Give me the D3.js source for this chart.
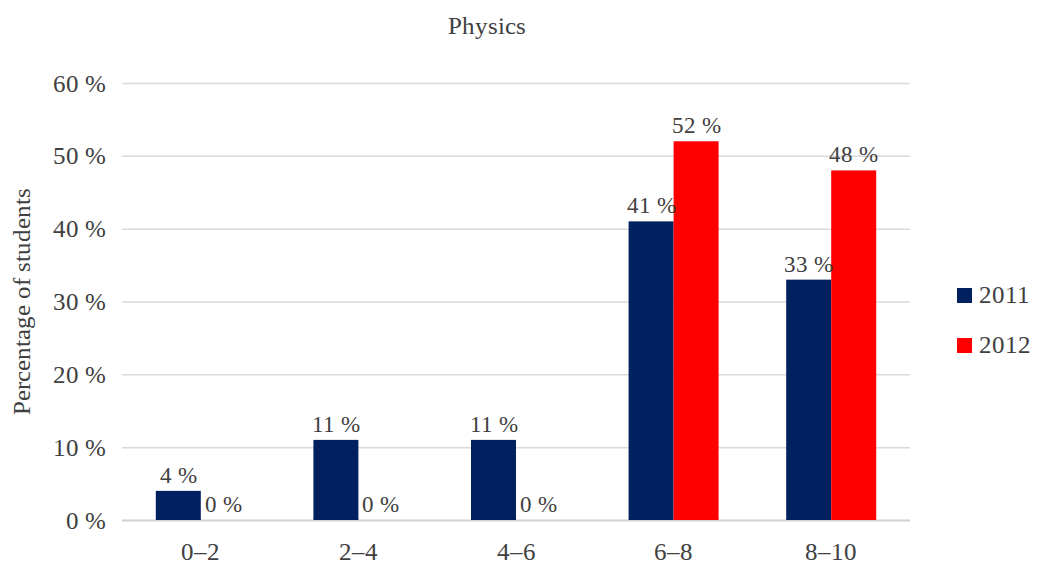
<!DOCTYPE html>
<html><head><meta charset="utf-8">
<script src="https://cdn.jsdelivr.net/npm/d3@7"></script>
<style>
@font-face { font-family: 'ChartSerif'; src: local('Liberation Serif'), local('LiberationSerif'), local('Times New Roman'), local('Tinos'); }
svg text { font-family: 'ChartSerif', 'Liberation Serif', 'Times New Roman', Times !important; }
</style>
</head><body style="margin:0;background:#fff">
<svg id="c" width="1037" height="568" font-family="'Liberation Serif', 'Times New Roman'"></svg>
<script>
const categories = ["0–2","2–4","4–6","6–8","8–10"];
const series = ["2011","2012"];
const values2011 = [4,11,11,41,33];
const values2012 = [0,0,0,52,48];
const yTicks = [0,10,20,30,40,50,60];
const colors = ["#002060","#FF0000"];
const TXT = "#404040";

const svg = d3.select("#c");
const m = {l:122, r:910, t:83, b:520};
const x = d3.scaleBand().domain(categories).range([m.l,m.r]).paddingInner(0).paddingOuter(0);
const x1 = d3.scaleBand().domain(series).range([0,90]);
const y = d3.scaleLinear().domain([0,60]).range([m.b,m.t]);

function styleText(sel, size){
  return sel.style("font-size",size+"px").attr("fill",TXT);
}

styleText(svg.append("text").attr("x",487).attr("y",34).attr("text-anchor","middle"),25).text("Physics");

const ga = svg.append("g").attr("transform",`translate(${m.l},0)`)
  .call(d3.axisLeft(y).tickValues(yTicks).tickSize(-(m.r-m.l)).tickPadding(16).tickFormat(d=>d+" %"));
ga.attr("font-family",null).attr("font-size",null);
ga.select(".domain").remove();
ga.selectAll(".tick line").attr("stroke",d=>d===0?"#d0d0d0":"#d9d9d9").attr("stroke-width",d=>d===0?2:1.5);
styleText(ga.selectAll(".tick text"),25);

const gx = svg.append("g").attr("transform",`translate(0,${m.b})`)
  .call(d3.axisBottom(x).tickSize(0).tickPadding(22));
gx.attr("font-family",null).attr("font-size",null);
gx.select(".domain").remove();
styleText(gx.selectAll(".tick text"),25);

styleText(svg.append("text").attr("transform",`translate(30,${(m.t+m.b)/2}) rotate(-90)`).attr("text-anchor","middle"),25)
  .text("Percentage of students");

const data = categories.map((c,i)=>({c, vals:[values2011[i],values2012[i]]}));
const groups = svg.append("g").selectAll("g").data(data).join("g")
  .attr("transform",d=>`translate(${x(d.c)+x.bandwidth()/2-45},0)`);
groups.selectAll("rect").data(d=>d.vals.map((v,j)=>({v,s:series[j],j}))).join("rect")
  .attr("x",d=>x1(d.s)).attr("width",x1.bandwidth())
  .attr("y",d=>y(d.v)).attr("height",d=>y(0)-y(d.v)).attr("fill",d=>colors[d.j]);
styleText(groups.selectAll("text.lbl").data(d=>d.vals.map((v,j)=>({v,s:series[j],j}))).join("text").attr("class","lbl")
  .attr("x",d=>x1(d.s)+x1.bandwidth()/2).attr("y",d=>y(d.v)-8).attr("text-anchor","middle"),23)
  .text(d=>d.v+" %");

const lg = svg.append("g").selectAll("g").data(series).join("g").attr("transform",(d,i)=>`translate(957,${288+i*50})`);
lg.append("rect").attr("width",15).attr("height",15).attr("fill",(d,i)=>colors[i]);
styleText(lg.append("text").attr("x",22).attr("y",15),25).text(d=>d);
</script>
</body></html>
